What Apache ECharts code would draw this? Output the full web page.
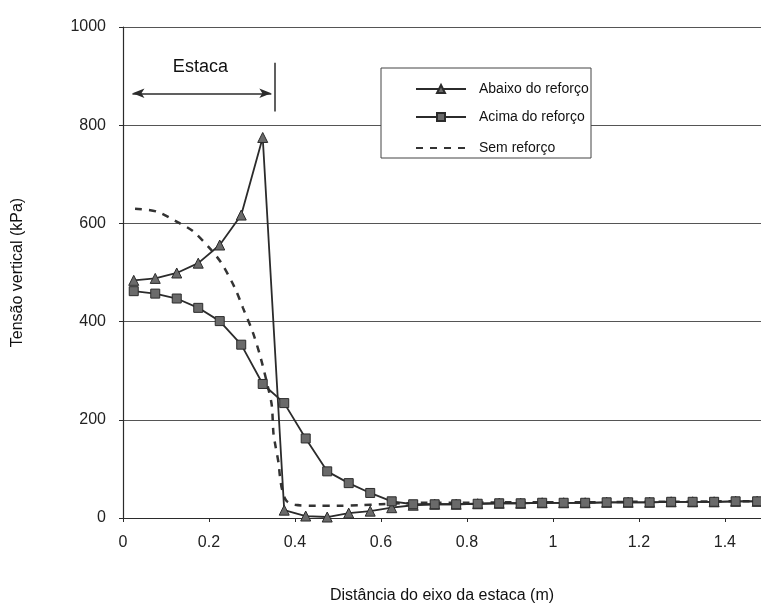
<!DOCTYPE html>
<html><head><meta charset="utf-8">
<script src="https://cdn.jsdelivr.net/npm/echarts@6/dist/echarts.min.js"></script>
<style>html,body{margin:0;padding:0;background:#fff}#c{width:761px;height:609px}</style>
</head><body><div id="c"></div>
<script>
// Data (x in m, y in kPa)
const xMarked = [0.025,0.075,0.125,0.175,0.225,0.275,0.325,0.375,0.425,0.475,0.525,0.575,0.625,0.675,0.725,0.775,0.825,0.875,0.925,0.975,1.025,1.075,1.125,1.175,1.225,1.275,1.325,1.375,1.425,1.475];
const abaixo = [484,488,499,519,556,617,775,16,4,2,10,14,21,26,28,28,29,30,30,31,31,31,32,32,32,33,33,33,34,34];
const acima  = [462,457,447,428,401,353,273,234,162,95,71,51,34,28,28,28,29,30,30,31,31,31,32,32,32,33,33,33,34,34];
const semX = [0.028,0.079,0.128,0.163,0.202,0.229,0.26,0.279,0.302,0.32,0.337,0.346,0.35,0.355,0.362,0.365,0.37,0.38,0.40,0.45,0.5,0.55,0.6,0.65,0.7,0.8,0.9,1.0,1.1,1.2,1.3,1.4,1.475];
const semY = [630,624,602,584,549,519,469,428,378,327,267,230,172,145,111,85,58,35,27,25,25,26,28,30,31,31,32,32,32,33,33,34,34];
const yTicks = [0,200,400,600,800,1000];

const pair = (xs, ys) => xs.map((x,i)=>[x,ys[i]]);
const dark = '#2b2b2b';
const font = 'Liberation Sans, Arial, sans-serif';

const chart = echarts.init(document.getElementById('c'));
const legendBase = (name, top, extra) => Object.assign({
  data:[name], left:410, top:top, orient:'vertical', itemWidth:50, itemHeight:10,
  textStyle:{fontFamily:font, fontSize:14, color:'#111', padding:[0,0,0,8]}, selectedMode:false
}, extra || {});
const boxRect = {type:'rect', z:3, shape:{x:381,y:68,width:210,height:90},
    style:{fill:'#fff', stroke:'#444', lineWidth:1}};
chart.setOption({
  animation:false,
  backgroundColor:'#fff',
  grid:{left:123, right:0, top:27, bottom:87},
  legend:[legendBase('Abaixo do reforço',77), legendBase('Acima do reforço',105),
          legendBase('Sem reforço',136,{itemStyle:{opacity:0}})],
  xAxis:{type:'value', min:0, max:1.484, interval:0.2,
    name:'Distância do eixo da estaca (m)', nameLocation:'middle', nameGap:70,
    nameTextStyle:{fontFamily:font, fontSize:16, color:'#111'},
    axisLine:{lineStyle:{color:dark, width:1.2}},
    axisTick:{show:true, length:4, lineStyle:{color:dark}},
    axisLabel:{fontFamily:font, fontSize:16, color:'#222', margin:17, showMaxLabel:false,
      formatter:v=>(Math.round(v*10)/10).toString()},
    splitLine:{show:false}},
  yAxis:{type:'value', min:0, max:1000, interval:200,
    name:'Tensão vertical (kPa)', nameLocation:'middle', nameGap:97,
    nameTextStyle:{fontFamily:font, fontSize:16, color:'#111'},
    axisLine:{show:true, lineStyle:{color:dark, width:1.2}},
    axisTick:{show:true, length:4, lineStyle:{color:dark}},
    axisLabel:{fontFamily:font, fontSize:16, color:'#222', margin:17,
      formatter:v=>yTicks.includes(v)?String(v):''},
    splitLine:{show:true, lineStyle:{color:'#555', width:1}}},
  graphic:[boxRect],
  series:[
    {name:'Abaixo do reforço', type:'line', data:pair(xMarked, abaixo), symbol:'triangle', symbolSize:10,
      lineStyle:{color:dark, width:1.8}, itemStyle:{color:'#6a6a6a', borderColor:dark, borderWidth:1}, z:3},
    {name:'Acima do reforço', type:'line', data:pair(xMarked, acima), symbol:'rect', symbolSize:9,
      lineStyle:{color:dark, width:1.8}, itemStyle:{color:'#6a6a6a', borderColor:dark, borderWidth:1}, z:3},
    {name:'Sem reforço', type:'line', data:pair(semX, semY), symbol:'none', smooth:0.3,
      lineStyle:{color:'#333', width:2.5, type:[7,7]}, itemStyle:{color:'#333'}, z:2,
      markLine:{silent:true, symbol:['none','none'], label:{show:false},
        lineStyle:{color:dark, width:1.5, type:'solid'},
        data:[
          [{coord:[0.022,865], symbol:'arrow', symbolSize:[7,12]},{coord:[0.345,865], symbol:'arrow', symbolSize:[7,12]}],
          [{coord:[0.352,927]},{coord:[0.352,828]}]
        ]}}
  ]
});
const p = chart.convertToPixel({gridIndex:0}, [0.18, 918]);
chart.setOption({graphic:[boxRect,
  {type:'text', x:p[0], y:p[1], z:5, style:{text:'Estaca', font:'18px '+font, fill:'#111', align:'center', verticalAlign:'middle'}}]});
</script></body></html>
